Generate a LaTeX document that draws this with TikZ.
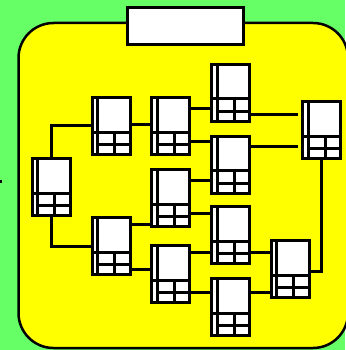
\documentclass[tikz,border=0pt]{standalone}
\usetikzlibrary{calc}
\definecolor{bggreen}{RGB}{102,255,102}
\definecolor{panelyellow}{RGB}{255,255,0}
\begin{document}
\begin{tikzpicture}[x=1pt,y=-1pt,
  tbl/.style={draw, fill=white, line width=3pt, minimum width=38pt, minimum height=57pt, inner sep=0pt,
    path picture={
      \coordinate (tnw) at (path picture bounding box.north west);
      \coordinate (tne) at (path picture bounding box.north east);
      \coordinate (tsw) at (path picture bounding box.south west);
      \draw[line width=3pt] ($(tnw)+(5.5,0)$) -- ($(tsw)+(5.5,0)$);
      \draw[line width=3pt] ($(tnw)+(0,34.5)$) -- ($(tne)+(0,34.5)$);
      \draw[line width=3pt] ($(tnw)+(5.5,47)$) -- ($(tne)+(0,47)$);
      \draw[line width=3pt] ($(tnw)+(22.5,34.5)$) -- ($(tsw)+(22.5,0)$);
    }},
  conn/.style={draw, line width=3pt},
  titlebox/.style={draw, fill=white, line width=3pt, minimum width=116pt, minimum height=37pt, inner sep=0pt}
]
\useasboundingbox (0,0) rectangle (345,350);
\fill[bggreen] (0,0) rectangle (345,350);
\fill (0,180) rectangle (2,182.5);
\draw[fill=panelyellow, line width=2.5pt, rounded corners=35pt] (18.5,23) rectangle (348,348);
\node[titlebox] (title) at (185,26.5) {};

\node[tbl] (A) at (51,187) {};
\node[tbl] (B) at (111,126) {};
\node[tbl] (C) at (170.5,126) {};
\node[tbl] (D) at (230.5,93) {};
\node[tbl] (E) at (230.5,164.5) {};
\node[tbl] (F) at (170.5,198) {};
\node[tbl] (G) at (111,246) {};
\node[tbl] (H) at (170.5,274) {};
\node[tbl] (I) at (230.5,235) {};
\node[tbl] (J) at (230.5,307) {};
\node[tbl] (K) at (290,269) {};
\node[tbl] (L) at (321.5,130) {};

\path[conn] (A.north) |- (B.west |- 0,125);
\path[conn] (A.south) |- (G.west |- 0,246.5);
\path[conn] (B.east |- 0,124.5) -- (C.west |- 0,124.5);
\path[conn] (C.east |- 0,108) -- (D.west |- 0,108);
\path[conn] (C.east |- 0,141.5) -- (E.west |- 0,141.5);
\path[conn] (D.east |- 0,114) -- ([xshift=-3pt]L.west |- 0,114);
\path[conn] (E.east |- 0,146.5) -- ([xshift=-3pt]L.west |- 0,146.5);
\path[conn] (F.east |- 0,180) -- (E.west |- 0,180);
\path[conn] (F.east |- 0,213) -- (I.west |- 0,213);
\path[conn] (G.east |- 0,224) -- (F.west |- 0,224);
\path[conn] (G.east |- 0,269) -- (H.west |- 0,269);
\path[conn] (H.east |- 0,252) -- (I.west |- 0,252);
\path[conn] (H.east |- 0,292) -- (J.west |- 0,292);
\path[conn] (I.east |- 0,252) -- (K.west |- 0,252);
\path[conn] (J.east |- 0,292) -- (K.west |- 0,292);
\path[conn] (K.east |- 0,271) -| (L.south);
\end{tikzpicture}
\end{document}
